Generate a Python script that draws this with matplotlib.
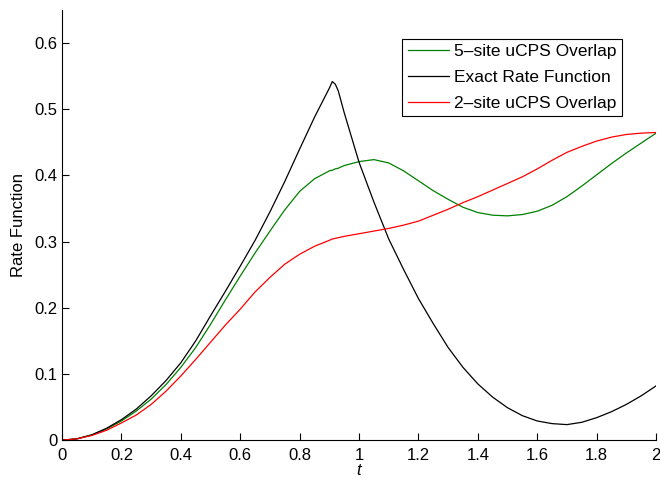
import matplotlib
matplotlib.use('Agg')
from matplotlib import pyplot as plt

plt.rcParams['font.family'] = ['Liberation Sans', 'DejaVu Sans']

# time grid
t = [0, 0.05, 0.1, 0.15, 0.2, 0.25, 0.3, 0.35, 0.4, 0.45, 0.5, 0.55, 0.6,
     0.65, 0.7, 0.75, 0.8, 0.85, 0.9, 0.91, 0.92, 0.93, 0.95, 1.0, 1.05, 1.1,
     1.15, 1.2, 1.25, 1.3, 1.35, 1.4, 1.45, 1.5, 1.55, 1.6, 1.65, 1.7, 1.75,
     1.8, 1.85, 1.9, 1.95, 2.0]

# exact rate function
exact = [0, 0.002, 0.008, 0.018, 0.031, 0.047, 0.067, 0.090, 0.117, 0.150,
         0.188, 0.225, 0.263, 0.302, 0.345, 0.391, 0.440, 0.488, 0.532, 0.542,
         0.538, 0.528, 0.495, 0.420, 0.360, 0.304, 0.258, 0.214, 0.176, 0.140,
         0.110, 0.085, 0.065, 0.049, 0.037, 0.029, 0.025, 0.0235, 0.027, 0.034,
         0.043, 0.054, 0.067, 0.082]

# 5-site uCPS overlap
site5 = [0, 0.002, 0.008, 0.017, 0.029, 0.044, 0.062, 0.084, 0.110, 0.140,
         0.175, 0.212, 0.248, 0.283, 0.316, 0.348, 0.376, 0.395, 0.407, 0.408,
         0.410, 0.411, 0.415, 0.421, 0.424, 0.419, 0.407, 0.392, 0.377, 0.364,
         0.352, 0.344, 0.340, 0.339, 0.341, 0.346, 0.355, 0.368, 0.384, 0.401,
         0.418, 0.434, 0.449, 0.464]

# 2-site uCPS overlap
site2 = [0, 0.002, 0.007, 0.015, 0.026, 0.038, 0.054, 0.074, 0.097, 0.122,
         0.148, 0.174, 0.198, 0.224, 0.246, 0.266, 0.281, 0.293, 0.302, 0.304,
         0.305, 0.306, 0.308, 0.312, 0.316, 0.320, 0.325, 0.331, 0.340, 0.349,
         0.359, 0.368, 0.378, 0.388, 0.398, 0.410, 0.423, 0.435, 0.444, 0.452,
         0.458, 0.462, 0.464, 0.465]

fig = plt.figure(figsize=(6.6, 4.8), dpi=100)
ax = fig.add_axes([0.094, 0.083, 0.9, 0.896])

ax.plot(t, site5, color='#008000', lw=0.9, label='5\u2013site uCPS Overlap')
ax.plot(t, exact, color='black', lw=0.9, label='Exact Rate Function')
ax.plot(t, site2, color='#ff0000', lw=0.9, label='2\u2013site uCPS Overlap')

ax.set_xlim(0, 2)
ax.set_ylim(0, 0.65)
ax.set_xticks([0, 0.2, 0.4, 0.6, 0.8, 1, 1.2, 1.4, 1.6, 1.8, 2])
ax.set_xticklabels(['0', '0.2', '0.4', '0.6', '0.8', '1', '1.2', '1.4', '1.6', '1.8', '2'])
ax.set_yticks([0, 0.1, 0.2, 0.3, 0.4, 0.5, 0.6])
ax.set_yticklabels(['0', '0.1', '0.2', '0.3', '0.4', '0.5', '0.6'])

ax.spines['top'].set_visible(False)
ax.spines['right'].set_visible(False)
ax.tick_params(direction='in', length=5, width=0.8, labelsize=12)
ax.tick_params(axis='x', pad=6)
ax.tick_params(axis='y', pad=3)

ax.set_xlabel('t', fontsize=12, style='italic', labelpad=0)
ax.set_ylabel('Rate Function', fontsize=12, labelpad=6)

leg = ax.legend(loc='upper right', bbox_to_anchor=(0.943, 0.933), borderaxespad=0,
                fontsize=12.5, fancybox=False, framealpha=1, edgecolor='black',
                handlelength=2.4, handletextpad=0.3, labelspacing=0.62,
                borderpad=0.3)
leg.get_frame().set_linewidth(0.8)

fig.savefig('out.png', dpi=100)
